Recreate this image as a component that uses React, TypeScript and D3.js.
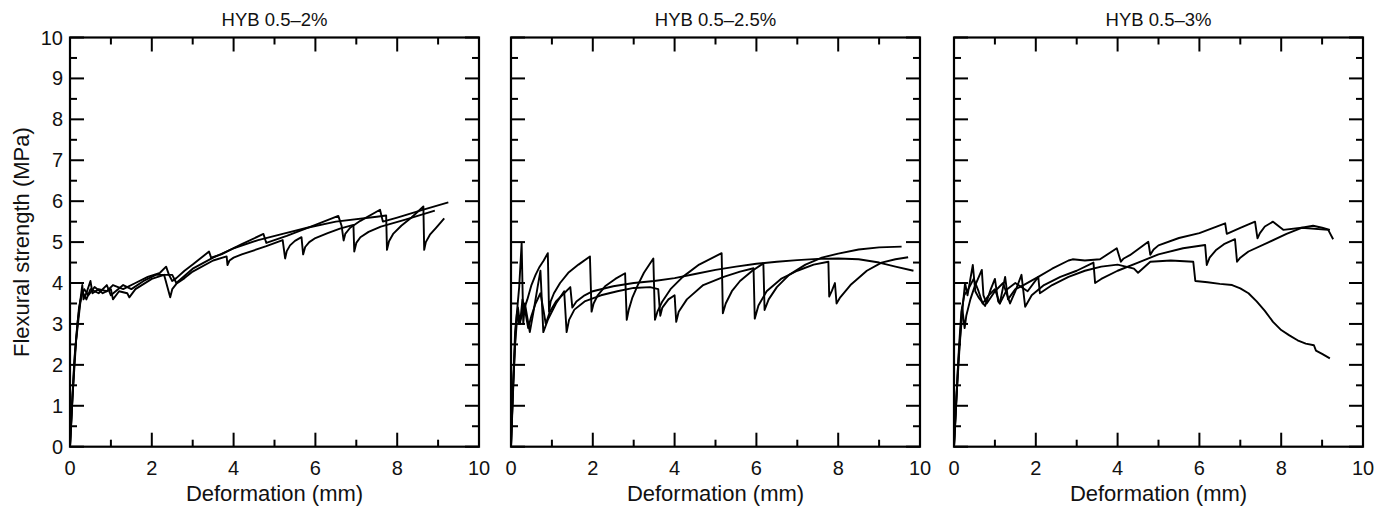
import React from "react";
import * as d3 from "d3";

type Pt = [number, number];

const panelTitles = ["HYB 0.5–2%", "HYB 0.5–2.5%", "HYB 0.5–3%"];
const xTickLabels = ["0", "2", "4", "6", "8", "10"];
const yTickLabels = ["0", "1", "2", "3", "4", "5", "6", "7", "8", "9", "10"];
const xTitle = "Deformation (mm)";
const yTitle = "Flexural strength (MPa)";

// Panel 1: HYB 0.5–2%
const p1a: Pt[] = [[0,0],[0.04,0.8],[0.1,2.0],[0.18,3.0],[0.25,3.55],[0.3,3.95],[0.33,3.6],[0.4,3.75],[0.5,4.05],[0.55,3.75],[0.7,3.85],[0.9,3.8],[1.05,3.95],[1.3,3.85],[1.6,4.0],[1.9,4.15],[2.2,4.25],[2.35,4.4],[2.42,4.2],[2.5,4.05],[2.6,4.12],[2.8,4.3],[3.0,4.45],[3.4,4.77],[3.45,4.62],[3.7,4.7],[4.2,4.95],[4.73,5.2],[4.8,4.98],[5.3,5.15],[6.0,5.42],[6.56,5.64],[6.64,5.4],[6.69,5.04],[6.73,5.2],[6.85,5.35],[7.1,5.52],[7.58,5.79],[7.65,5.5],[8.0,5.6],[8.6,5.78],[9.25,5.97]];
const p1b: Pt[] = [[0,0],[0.05,1.0],[0.12,2.3],[0.22,3.4],[0.28,3.7],[0.35,3.85],[0.45,3.7],[0.6,3.9],[0.8,3.75],[1.0,3.85],[1.05,3.6],[1.2,3.8],[1.4,3.75],[1.45,3.65],[1.6,3.85],[2.0,4.1],[2.3,4.2],[2.45,3.65],[2.5,3.85],[2.6,3.98],[2.8,4.12],[3.0,4.28],[3.5,4.55],[3.83,4.65],[3.85,4.44],[3.9,4.55],[4.0,4.62],[4.2,4.7],[4.8,4.9],[5.2,5.05],[5.26,4.6],[5.3,4.78],[5.38,4.92],[5.5,5.03],[5.66,5.12],[5.7,4.7],[5.75,4.88],[5.85,5.0],[6.0,5.1],[6.3,5.22],[6.6,5.33],[6.93,5.42],[6.95,4.77],[7.0,4.98],[7.1,5.12],[7.3,5.25],[7.6,5.38],[8.2,5.55],[8.92,5.77]];
const p1c: Pt[] = [[0,0],[0.06,1.2],[0.15,2.6],[0.25,3.5],[0.3,3.8],[0.4,3.6],[0.5,3.85],[0.7,3.75],[0.9,3.95],[1.0,3.7],[1.3,3.95],[1.5,3.85],[1.8,4.05],[2.1,4.2],[2.5,4.2],[2.6,4.0],[3.0,4.35],[3.5,4.62],[4.0,4.85],[4.6,5.05],[5.2,5.2],[5.8,5.35],[6.5,5.5],[7.5,5.62],[7.73,5.65],[7.75,4.81],[7.8,5.02],[7.9,5.2],[8.1,5.4],[8.35,5.6],[8.64,5.87],[8.66,4.81],[8.7,5.0],[8.8,5.18],[8.95,5.35],[9.15,5.58]];

// Panel 2: HYB 0.5–2.5%
const p2a: Pt[] = [[0,0],[0.05,1.5],[0.1,2.8],[0.15,3.3],[0.2,3.0],[0.3,3.3],[0.4,3.6],[0.5,3.95],[0.6,4.2],[0.7,4.4],[0.8,4.55],[0.9,4.73],[0.93,3.3],[0.97,3.55],[1.05,3.75],[1.2,4.0],[1.4,4.25],[1.65,4.45],[1.93,4.65],[1.97,3.3],[2.02,3.5],[2.12,3.7],[2.3,3.92],[2.55,4.1],[2.79,4.24],[2.83,3.1],[2.88,3.35],[2.97,3.65],[3.1,3.95],[3.25,4.25],[3.48,4.6],[3.52,3.1],[3.58,3.3],[3.7,3.55],[3.9,3.85],[4.2,4.15],[4.6,4.45],[5.15,4.73],[5.18,3.26],[5.25,3.5],[5.4,3.8],[5.6,4.05],[5.9,4.3],[6.17,4.48],[6.2,3.34],[6.3,3.6],[6.5,3.9],[6.8,4.2],[7.2,4.45],[7.6,4.62],[8.0,4.72],[8.5,4.82],[9.0,4.87],[9.55,4.89]];
const p2b: Pt[] = [[0,0],[0.06,1.6],[0.12,3.0],[0.2,3.9],[0.26,4.97],[0.3,3.0],[0.34,3.5],[0.46,2.8],[0.55,3.3],[0.65,3.9],[0.72,4.3],[0.79,2.8],[0.9,3.1],[1.1,3.5],[1.3,3.8],[1.36,2.8],[1.42,3.1],[1.55,3.35],[1.8,3.55],[2.2,3.7],[2.6,3.8],[3.0,3.88],[3.4,3.9],[3.6,3.85],[3.65,3.2],[3.7,3.4],[3.85,3.6],[4.0,3.7],[4.04,3.05],[4.1,3.3],[4.3,3.6],[4.7,3.95],[5.2,4.15],[5.6,4.28],[5.93,4.36],[5.96,3.13],[6.05,3.45],[6.25,3.8],[6.6,4.1],[7.0,4.3],[7.4,4.45],[7.76,4.52],[7.78,3.67],[7.85,3.82],[7.92,4.0],[7.96,3.5],[8.05,3.65],[8.3,3.95],[8.7,4.3],[9.06,4.5],[9.4,4.58],[9.71,4.63]];
const p2c: Pt[] = [[0,0],[0.04,1.2],[0.1,2.5],[0.17,3.4],[0.22,3.0],[0.28,3.6],[0.35,3.3],[0.42,2.9],[0.5,3.2],[0.6,3.5],[0.72,3.75],[0.8,3.3],[0.85,3.0],[0.95,3.3],[1.1,3.55],[1.3,3.75],[1.45,3.9],[1.5,3.4],[1.6,3.55],[1.8,3.7],[2.0,3.8],[2.5,3.92],[3.0,4.0],[3.5,4.05],[4.0,4.12],[4.5,4.22],[5.0,4.32],[5.5,4.4],[6.0,4.47],[6.5,4.52],[7.0,4.56],[7.5,4.59],[8.0,4.6],[8.5,4.58],[9.0,4.5],[9.4,4.4],[9.84,4.3]];

// Panel 3: HYB 0.5–3%
const p3a: Pt[] = [[0,0],[0.06,1.2],[0.14,2.5],[0.22,3.5],[0.27,4.0],[0.33,3.7],[0.46,4.44],[0.52,3.8],[0.6,3.65],[0.76,3.44],[0.9,3.85],[1.0,4.1],[1.08,3.55],[1.12,3.5],[1.25,4.15],[1.32,3.6],[1.5,3.85],[1.7,3.95],[2.06,4.15],[2.4,4.35],[2.8,4.55],[2.9,4.58],[3.2,4.55],[3.57,4.58],[3.98,4.85],[4.08,4.52],[4.15,4.6],[4.3,4.68],[4.75,5.01],[4.8,4.69],[4.88,4.82],[5.0,4.92],[5.5,5.1],[6.0,5.22],[6.63,5.46],[6.67,5.2],[7.0,5.35],[7.36,5.5],[7.42,5.09],[7.48,5.22],[7.6,5.38],[7.8,5.5],[8.05,5.3],[8.5,5.35],[9.15,5.3],[9.27,5.07]];
const p3b: Pt[] = [[0,0],[0.04,0.8],[0.1,2.0],[0.2,3.4],[0.26,2.9],[0.3,3.2],[0.4,3.6],[0.5,3.9],[0.68,4.32],[0.72,3.7],[0.8,3.5],[1.0,3.8],[1.2,4.0],[1.37,3.5],[1.5,3.8],[1.65,4.2],[1.74,3.42],[1.9,3.7],[2.2,3.95],[2.6,4.15],[3.0,4.3],[3.41,4.5],[3.45,4.0],[3.6,4.1],[4.0,4.3],[4.5,4.5],[5.0,4.7],[5.6,4.85],[6.14,4.93],[6.18,4.44],[6.25,4.62],[6.4,4.8],[6.6,4.95],[6.87,5.07],[6.92,4.52],[7.0,4.62],[7.2,4.77],[7.7,5.0],[8.13,5.2],[8.5,5.35],[8.78,5.4],[9.0,5.35],[9.19,5.3]];
const p3c: Pt[] = [[0,0],[0.05,1.0],[0.12,2.4],[0.18,3.3],[0.25,3.7],[0.35,3.85],[0.48,4.1],[0.6,3.8],[0.7,3.5],[0.85,3.7],[1.0,3.85],[1.12,3.5],[1.3,3.85],[1.5,4.0],[1.8,3.8],[2.06,4.15],[2.1,3.75],[2.4,3.95],[2.8,4.15],[3.2,4.3],[3.6,4.4],[4.0,4.45],[4.4,4.35],[4.5,4.25],[4.8,4.52],[5.3,4.55],[5.85,4.52],[5.9,4.05],[6.2,4.02],[6.5,3.98],[6.8,3.95],[7.0,3.87],[7.2,3.75],[7.4,3.55],[7.6,3.32],[7.8,3.05],[8.0,2.85],[8.2,2.72],[8.4,2.6],[8.6,2.52],[8.8,2.48],[8.85,2.35],[9.0,2.27],[9.19,2.16]];

const panelSeries: Pt[][][] = [[p1a, p1b, p1c], [p2a, p2b, p2c], [p3a, p3b, p3c]];

const W = 1389;
const H = 506;
const panelLefts = [70, 511, 954];
const plotW = 409;
const plotTop = 37.5;
const plotBottom = 446.7;
const FONT = "'Liberation Sans', Arial, Helvetica, sans-serif";

function Panel({ idx }: { idx: number }) {
  const left = panelLefts[idx];
  const x = d3.scaleLinear().domain([0, 10]).range([left, left + plotW]);
  const y = d3.scaleLinear().domain([0, 10]).range([plotBottom, plotTop]);
  const line = d3.line<Pt>().x((d) => x(d[0])).y((d) => y(d[1]));
  const xMajor = d3.range(0, 10.01, 2);
  const xMinor = d3.range(1, 10, 2);
  const yMajor = d3.range(0, 10.01, 1);
  const yMinor = d3.range(0.5, 10, 1);
  const MAJ = 14;
  const MIN = 7;
  const cx = left + plotW / 2;
  return (
    <g>
      <text x={cx} y={26} textAnchor="middle" fontSize={18.5} fontFamily={FONT} fill="#111">
        {panelTitles[idx]}
      </text>
      {panelSeries[idx].map((s, i) => (
        <path key={i} d={line(s) || ""} fill="none" stroke="#000" strokeWidth={1.9} strokeLinejoin="round" />
      ))}
      <g stroke="#000" strokeWidth={2}>
        {xMajor.map((v) => (
          <g key={"xM" + v}>
            <line x1={x(v)} x2={x(v)} y1={plotBottom} y2={plotBottom - MAJ} />
            <line x1={x(v)} x2={x(v)} y1={plotTop} y2={plotTop + MAJ} />
          </g>
        ))}
        {xMinor.map((v) => (
          <g key={"xm" + v}>
            <line x1={x(v)} x2={x(v)} y1={plotBottom} y2={plotBottom - MIN} />
            <line x1={x(v)} x2={x(v)} y1={plotTop} y2={plotTop + MIN} />
          </g>
        ))}
        {yMajor.map((v) => (
          <g key={"yM" + v}>
            <line x1={left} x2={left + MAJ} y1={y(v)} y2={y(v)} />
            <line x1={left + plotW} x2={left + plotW - MAJ} y1={y(v)} y2={y(v)} />
          </g>
        ))}
        {yMinor.map((v) => (
          <g key={"ym" + v}>
            <line x1={left} x2={left + MIN} y1={y(v)} y2={y(v)} />
            <line x1={left + plotW} x2={left + plotW - MIN} y1={y(v)} y2={y(v)} />
          </g>
        ))}
      </g>
      <rect x={left} y={plotTop} width={plotW} height={plotBottom - plotTop} fill="none" stroke="#000" strokeWidth={2.2} />
      {xMajor.map((v, i) => (
        <text key={"xl" + v} x={x(v)} y={475} textAnchor="middle" fontSize={20} fontFamily={FONT} fill="#111">
          {xTickLabels[i]}
        </text>
      ))}
      {idx === 0 &&
        yMajor.map((v, i) => (
          <text key={"yl" + v} x={left - 7} y={y(v) + 7} textAnchor="end" fontSize={20} fontFamily={FONT} fill="#111">
            {yTickLabels[i]}
          </text>
        ))}
      <text x={cx} y={501} textAnchor="middle" fontSize={22} fontFamily={FONT} fill="#111">
        {xTitle}
      </text>
    </g>
  );
}

export default function App() {
  return (
    <svg
      width={W}
      height={H}
      viewBox={`0 0 ${W} ${H}`}
      style={{ position: "absolute", left: 0, top: 0, background: "#fff" }}
    >
      <rect x={0} y={0} width={W} height={H} fill="#fff" />
      {[0, 1, 2].map((i) => (
        <Panel key={i} idx={i} />
      ))}
      <text
        transform={`translate(29, ${(plotTop + plotBottom) / 2}) rotate(-90)`}
        textAnchor="middle"
        fontSize={22}
        fontFamily={FONT}
        fill="#111"
      >
        {yTitle}
      </text>
    </svg>
  );
}
